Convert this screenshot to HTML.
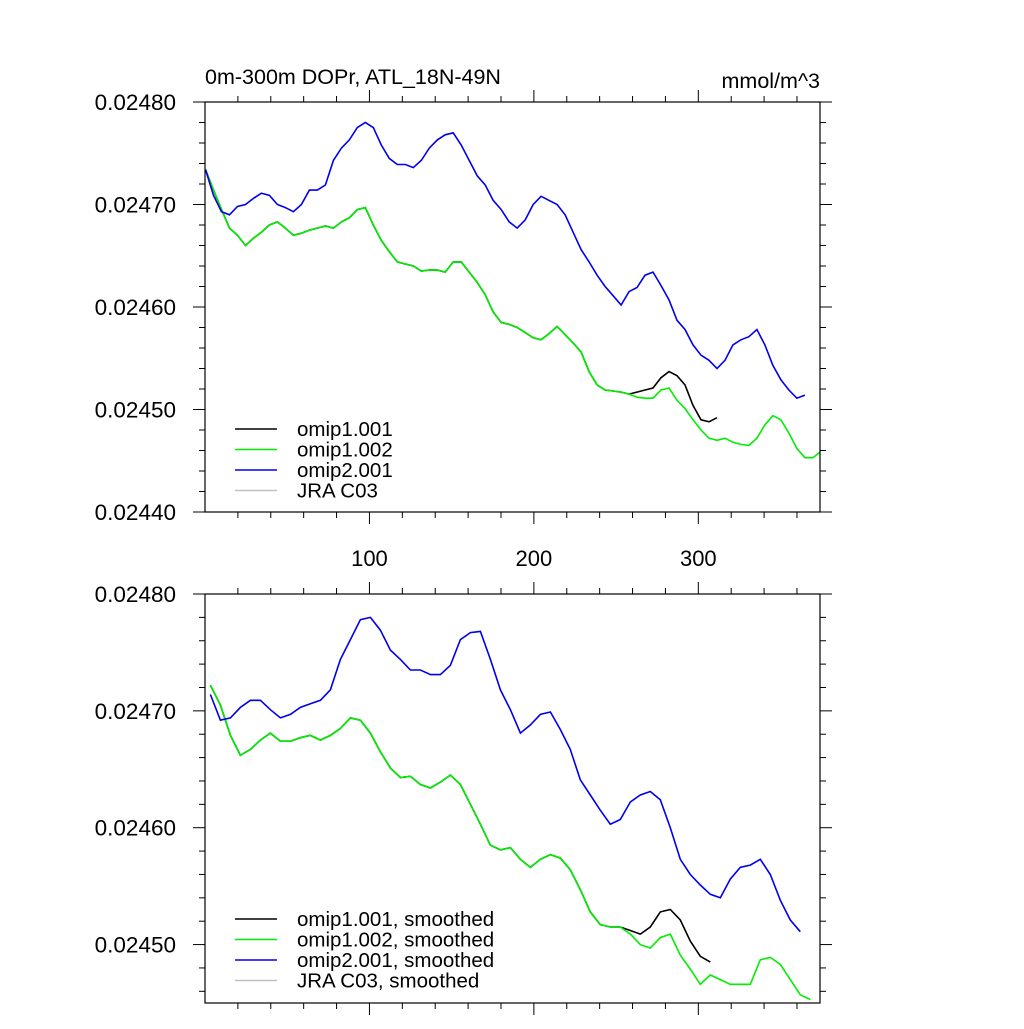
<!DOCTYPE html>
<html><head><meta charset="utf-8"><style>
body{margin:0;background:#fff}
svg text{font-family:"Liberation Sans",sans-serif;fill:#000}
</style></head><body>
<svg id="chart" width="1024" height="1024" viewBox="0 0 1024 1024" xmlns="http://www.w3.org/2000/svg">
<rect width="1024" height="1024" fill="#fff"/>
<text x="205" y="84" font-size="21.5">0m-300m DOPr, ATL_18N-49N</text>
<text x="820" y="88" font-size="21.5" text-anchor="end">mmol/m^3</text>
<g id="top"></g><g id="bot"></g>
</svg>
<script>
// values in units of 1e-5 mmol/m^3
const topStep = 4.86;
const topBlue = [2473.4,2470.9,2469.3,2469.0,2469.8,2470.0,2470.6,2471.1,2470.9,2470.0,2469.7,2469.3,2470.0,2471.4,2471.4,2471.9,2474.3,2475.5,2476.3,2477.5,2478.0,2477.5,2475.8,2474.5,2473.9,2473.9,2473.6,2474.3,2475.5,2476.3,2476.8,2477.0,2475.8,2474.3,2472.8,2471.9,2470.4,2469.5,2468.3,2467.7,2468.5,2470.0,2470.8,2470.4,2470.0,2469.0,2467.3,2465.6,2464.4,2463.1,2462.0,2461.1,2460.2,2461.5,2461.9,2463.1,2463.4,2462.1,2460.7,2458.7,2457.8,2456.3,2455.3,2454.8,2454.0,2454.8,2456.3,2456.8,2457.1,2457.8,2456.3,2454.3,2452.9,2451.9,2451.1,2451.4];
const topGreen = [2473.4,2471.4,2469.5,2467.7,2467.0,2466.0,2466.7,2467.3,2468.0,2468.3,2467.7,2467.0,2467.2,2467.5,2467.7,2467.9,2467.7,2468.3,2468.7,2469.5,2469.7,2468.0,2466.5,2465.4,2464.4,2464.2,2464.0,2463.5,2463.6,2463.6,2463.4,2464.4,2464.4,2463.4,2462.4,2461.2,2459.5,2458.5,2458.3,2458.0,2457.5,2457.0,2456.8,2457.4,2458.1,2457.3,2456.5,2455.6,2453.7,2452.4,2451.9,2451.8,2451.7,2451.5,2451.2,2451.1,2451.1,2451.9,2452.1,2450.9,2450.1,2449.0,2448.0,2447.2,2447.0,2447.2,2446.8,2446.6,2446.5,2447.2,2448.5,2449.4,2449.0,2447.7,2446.2,2445.3,2445.3,2445.9];
const topBlackTail = [2451.7,2451.9,2452.1,2453.1,2453.7,2453.3,2452.4,2450.4,2449.0,2448.8,2449.2];
const topBlack = topGreen.slice(0,54).concat(topBlackTail);
const botStart = 3.3, botStep = 6.08;
const botBlue = [2471.4,2469.2,2469.4,2470.3,2470.9,2470.9,2470.1,2469.4,2469.7,2470.3,2470.6,2470.9,2471.8,2474.4,2476.1,2477.8,2478.0,2476.9,2475.2,2474.4,2473.5,2473.5,2473.1,2473.1,2473.9,2476.1,2476.7,2476.8,2474.4,2471.8,2470.1,2468.1,2468.8,2469.7,2469.9,2468.4,2466.7,2464.1,2462.8,2461.5,2460.3,2460.7,2462.2,2462.8,2463.1,2462.4,2460.0,2457.3,2456.0,2455.1,2454.3,2454.0,2455.6,2456.6,2456.8,2457.3,2456.0,2453.8,2452.1,2451.1];
const botGreen = [2472.2,2470.5,2467.9,2466.2,2466.7,2467.5,2468.1,2467.4,2467.4,2467.7,2467.9,2467.5,2467.9,2468.5,2469.4,2469.2,2468.1,2466.5,2465.1,2464.3,2464.4,2463.7,2463.4,2463.9,2464.5,2463.7,2462.0,2460.3,2458.5,2458.1,2458.3,2457.3,2456.6,2457.3,2457.7,2457.4,2456.4,2454.7,2452.8,2451.7,2451.5,2451.5,2450.9,2450.0,2449.7,2450.6,2450.9,2449.1,2447.9,2446.6,2447.4,2447.0,2446.6,2446.6,2446.6,2448.7,2448.9,2448.3,2447.0,2445.7,2445.3];
const botBlackTail = [2451.2,2450.9,2451.5,2452.8,2453.0,2452.1,2450.3,2449.0,2448.5];
const botBlack = botGreen.slice(0,42).concat(botBlackTail);
const yTicksTop = ["0.02480","0.02470","0.02460","0.02450","0.02440"];
const yTicksBot = ["0.02480","0.02470","0.02460","0.02450"];
const xTickLabels = ["100","200","300"];
const legendTop = ["omip1.001","omip1.002","omip2.001","JRA C03"];
const legendBot = ["omip1.001, smoothed","omip1.002, smoothed","omip2.001, smoothed","JRA C03, smoothed"];
const colors = ["#000","#00ee00","#0000ee","#c0c0c0"];

const NS="http://www.w3.org/2000/svg";
function mk(parent,tag,attrs){const e=document.createElementNS(NS,tag);for(const k in attrs)e.setAttribute(k,attrs[k]);parent.appendChild(e);return e;}

function panel(g,name,ymin,ymax,top,bot,yt,series,leg,legY,showX){
  const L=205,R=820,xmax=374;
  const X=u=>L+u/xmax*(R-L);
  const Y=v=>bot-(v-ymin)/(ymax-ymin)*(bot-top);
  const clip=mk(g,'clipPath',{id:'c'+name});
  mk(clip,'rect',{x:L,y:top,width:R-L,height:bot-top});
  series.forEach((s,si)=>{
    let d='';
    s.vals.forEach((v,i)=>{const u=s.x0+i*s.step;d+=(i?'L':'M')+X(u).toFixed(1)+','+Y(v).toFixed(1);});
    const p=mk(g,'path',{d:d,fill:'none',stroke:s.c,'stroke-width':1.6,'clip-path':'url(#c'+name+')'});
    
    
  });
  const fr=mk(g,'rect',{x:L,y:top,width:R-L,height:bot-top,fill:'none',stroke:'#000','stroke-width':1.2});
  
  
  for(let u=20;u<=xmax;u+=20){
    const maj=u%100===0,len=maj?12:6;
    mk(g,'line',{x1:X(u),x2:X(u),y1:top,y2:top-len,stroke:'#000'});
    mk(g,'line',{x1:X(u),x2:X(u),y1:bot,y2:bot+len,stroke:'#000'});
  }
  if(showX){xTickLabels.forEach(t=>{const e=mk(g,'text',{x:X(+t),y:bot+54,'font-size':22,'text-anchor':'middle'});e.textContent=t;
    
    });}
  for(let v=Math.ceil(ymin/2)*2;v<=ymax+0.01;v+=2){
    const maj=Math.abs(v%10)<0.01,len=maj?12:6;
    mk(g,'line',{x1:L,x2:L-len,y1:Y(v),y2:Y(v),stroke:'#000'});
    mk(g,'line',{x1:R,x2:R+len,y1:Y(v),y2:Y(v),stroke:'#000'});
  }
  yt.forEach(t=>{const v=parseFloat(t)*1e5;const e=mk(g,'text',{x:176,y:Y(v)+8,'font-size':22.5,'text-anchor':'end'});e.textContent=t;
    
    });
  leg.forEach((t,i)=>{const y=legY+i*20.5;
    mk(g,'line',{x1:235,x2:277,y1:y,y2:y,stroke:colors[i],'stroke-width':1.6});
    const e=mk(g,'text',{x:297,y:y+7,'font-size':20.5});e.textContent=t;
    
    });
}
panel(document.getElementById('top'),'top',2440,2480,102,512,yTicksTop,[
  {n:'omip1-001',vals:topBlack,x0:0.3,step:topStep,c:colors[0]},
  {n:'omip1-002',vals:topGreen,x0:0.3,step:topStep,c:colors[1]},
  {n:'omip2-001',vals:topBlue,x0:0.3,step:topStep,c:colors[2]}],legendTop,429,true);
panel(document.getElementById('bot'),'bottom',2445,2480,594,1003,yTicksBot,[
  {n:'omip1-001',vals:botBlack,x0:botStart,step:botStep,c:colors[0]},
  {n:'omip1-002',vals:botGreen,x0:botStart,step:botStep,c:colors[1]},
  {n:'omip2-001',vals:botBlue,x0:botStart,step:botStep,c:colors[2]}],legendBot,919,false);
</script>
</body></html>
